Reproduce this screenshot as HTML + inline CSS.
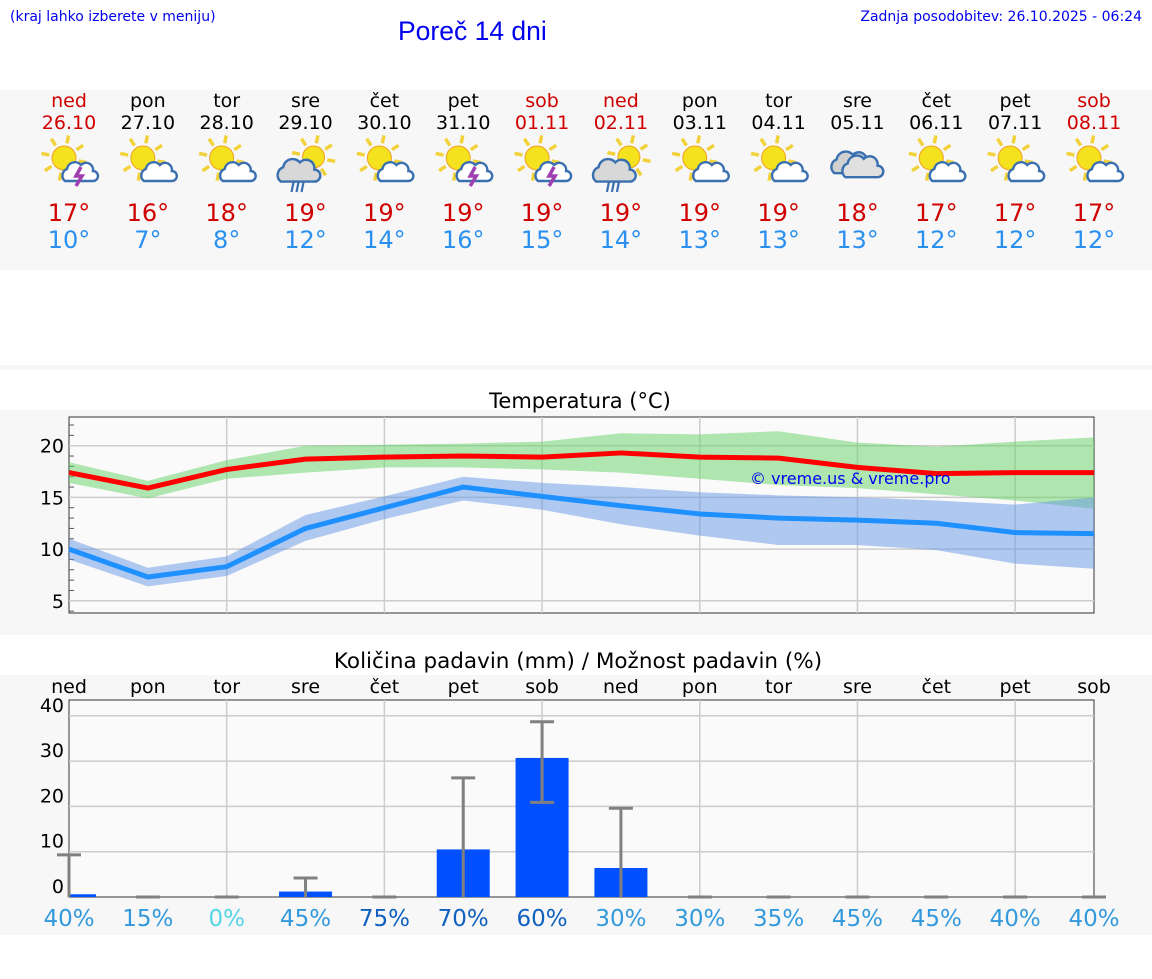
<!DOCTYPE html>
<html><head><meta charset="utf-8"><style>
body{margin:0;background:#fff;width:1152px;height:975px;overflow:hidden;font-family:"DejaVu Sans","Liberation Sans",sans-serif}
</style></head><body>
<svg id="s" width="1152" height="975" xmlns="http://www.w3.org/2000/svg" font-family="DejaVu Sans, Liberation Sans, sans-serif">
<rect x="0" y="90" width="1152" height="180" fill="#f7f7f7"/>
<rect x="0" y="365" width="1152" height="5" fill="#f7f7f7"/>
<rect x="0" y="410" width="1152" height="225" fill="#f7f7f7"/>
<rect x="0" y="675" width="1152" height="260" fill="#f7f7f7"/>
<text x="10" y="21" font-size="14" fill="#0000ee">(kraj lahko izberete v meniju)</text>
<text x="398" y="40" font-size="26.5" fill="#0000ee" font-family="Liberation Sans, sans-serif">Poreč 14 dni</text>
<text x="1142" y="21" font-size="14" fill="#0000ee" text-anchor="end">Zadnja posodobitev: 26.10.2025 - 06:24</text>
<g id="days"></g>
<text x="580" y="408" font-size="21" text-anchor="middle">Temperatura (°C)</text>
<rect x="69" y="417" width="1025" height="196" fill="#fafafa" stroke="#333"/>
<g id="temp"></g>
<text x="750" y="484" font-size="16" fill="#0000ee">© vreme.us &amp; vreme.pro</text>
<text x="578" y="668" font-size="21.5" text-anchor="middle">Količina padavin (mm) / Možnost padavin (%)</text>
<rect x="69" y="700" width="1025" height="197" fill="#fafafa" stroke="#333"/>
<g id="prec"></g>
</svg>
<script>
const dayNames=["ned","pon","tor","sre","čet","pet","sob","ned","pon","tor","sre","čet","pet","sob"];
const dates=["26.10","27.10","28.10","29.10","30.10","31.10","01.11","02.11","03.11","04.11","05.11","06.11","07.11","08.11"];
const icons=["storm","pc","pc","rain","pc","storm","storm","rain","pc","pc","cloud","pc","pc","pc"];
const maxT=[17.4,15.9,17.7,18.7,18.9,19.0,18.9,19.3,18.9,18.8,17.9,17.3,17.4,17.4];
const maxHi=[18.4,16.6,18.6,20.0,20.1,20.2,20.4,21.2,21.1,21.4,20.3,19.9,20.4,20.8];
const maxLo=[16.4,14.9,16.8,17.4,17.9,17.9,17.7,17.4,16.8,16.2,15.9,15.3,14.7,13.9];
const minT=[10.0,7.3,8.3,12.0,14.0,16.0,15.1,14.2,13.4,13.0,12.8,12.5,11.6,11.5];
const minHi=[11.0,8.2,9.3,13.3,15.1,17.0,16.4,16.0,15.5,15.2,15.0,14.7,14.3,15.0];
const minLo=[9.0,6.4,7.4,10.8,12.9,14.7,13.8,12.4,11.3,10.4,10.4,9.9,8.6,8.1];
const maxLabels=[17,16,18,19,19,19,19,19,19,19,18,17,17,17];
const minLabels=[10,7,8,12,14,16,15,14,13,13,13,12,12,12];
const precip=[0.6,0,0,1.2,0,10.5,30.7,6.4,0,0,0,0,0,0];
const precipHi=[9.3,0,0,4.2,0,26.3,38.7,19.6,0,0,0,0,0,0];
const precipLo=[0,0,0,0,0,0,20.9,0,0,0,0,0,0,0];
const chance=[40,15,0,45,75,70,60,30,30,35,45,45,40,40];
const tempTicks=[5,10,15,20];
const precTicks=[0,10,20,30,40];
const NS="http://www.w3.org/2000/svg";
function mk(p,t,a){const e=document.createElementNS(NS,t);for(const k in a)e.setAttribute(k,a[k]);p.appendChild(e);return e;}
const X=i=>69+i*(1025/13);
const TY=t=>445.7-(t-20)*10.34;
const PY=v=>897-v*4.53;
const red="#d00000";
const D=document.getElementById('days');
function sun(g,cx,cy,r){for(let k=0;k<8;k++){const a=k*Math.PI/4+0.2;mk(g,'line',{x1:cx+Math.cos(a)*(r+3),y1:cy+Math.sin(a)*(r+3),x2:cx+Math.cos(a)*(r+11),y2:cy+Math.sin(a)*(r+11),stroke:'#f2d23a','stroke-width':3.5});}mk(g,'circle',{cx,cy,r,fill:'#f5e21f',stroke:'#f0a020','stroke-width':1});}
function cloud(g,cx,cy,s,fill){const p=`M${cx-14*s},${cy+8*s} a${7*s},${7*s} 0 0 1 ${2*s},${-12*s} a${8*s},${8*s} 0 0 1 ${14*s},${-4*s} a${7*s},${7*s} 0 0 1 ${12*s},${6*s} a${5*s},${5*s} 0 0 1 ${0},${10*s} z`;mk(g,'path',{d:p,fill:fill,stroke:'#3a6fb0','stroke-width':2.4});}
for(let i=0;i<14;i++){const x=X(i);const we=(dayNames[i]==='ned'||dayNames[i]==='sob');
 let t=mk(D,'text',{x:x,y:107,'font-size':19,'text-anchor':'middle',fill:we?red:'#000'});t.textContent=dayNames[i];
 
 t=mk(D,'text',{x:x,y:129,'font-size':19,'text-anchor':'middle',fill:we?red:'#000'});t.textContent=dates[i];
 
 const g=mk(D,'g',{});
 const k=icons[i];
 if(k==='cloud'){cloud(g,x-7,164,1.15,'#d0d0d0');cloud(g,x+4,168,1.15,'#e0e0e0');}
 else if(k==='rain'){sun(g,x+8,157,11);cloud(g,x-8,172,1.2,'#d8d8d8');mk(g,'path',{d:`M${x-12},182 l-2,10 M${x-7},182 l-2,10 M${x-2},182 l-2,10`,stroke:'#3a6fb0','stroke-width':2.2});}
 else if(k==='storm'){sun(g,x-5,158,12);cloud(g,x+10,173,1.0,'#fff');mk(g,'path',{d:`M${x+12},167 l-5,9 h6 l-6,10`,stroke:'#a040b0','stroke-width':3.5,fill:'none'});}
 else {sun(g,x-5,158,12);cloud(g,x+10,173,1.0,'#fff');}
 t=mk(D,'text',{x:x,y:221,'font-size':24,'text-anchor':'middle',fill:red});t.textContent=maxLabels[i]+'°';
 
 t=mk(D,'text',{x:x,y:248,'font-size':24,'text-anchor':'middle',fill:'#2a90f0'});t.textContent=minLabels[i]+'°';
 
}
const T=document.getElementById('temp');
for(let i=1;i<13;i+=2){const l=mk(T,'line',{x1:X(i)+78.85,y1:417,x2:X(i)+78.85,y2:613,stroke:'#ccc','stroke-width':1.5});}
for(let v=4;v<=22;v++){mk(T,'line',{x1:69,y1:TY(v),x2:74,y2:TY(v),stroke:'#555'});}
tempTicks.forEach(v=>{const l=mk(T,'line',{x1:69,y1:TY(v),x2:1094,y2:TY(v),stroke:'#ccc','stroke-width':1.5});
 const t=mk(T,'text',{x:64,y:TY(v)+7,'font-size':19,'text-anchor':'end'});t.textContent=v;});
function band(hi,lo,col,name){let d='M'+hi.map((v,i)=>X(i)+','+TY(v)).join(' L')+' L'+lo.map((v,i)=>X(i)+','+TY(v)).reverse().join(' L')+'Z';const p=mk(T,'path',{d,fill:col});}
function line(a,col,name){const p=mk(T,'polyline',{points:a.map((v,i)=>X(i)+','+TY(v)).join(' '),fill:'none',stroke:col,'stroke-width':5,'stroke-linejoin':'round'});}
band(maxHi,maxLo,'rgba(100,210,100,0.5)','max-temp-range');
band(minHi,minLo,'rgba(100,150,230,0.5)','min-temp-range');
line(maxT,'#ff0000','max-temp-line');
line(minT,'#1e90ff','min-temp-line');
const P=document.getElementById('prec');
for(let i=2;i<14;i+=2){const l=mk(P,'line',{x1:X(i),y1:700,x2:X(i),y2:897,stroke:'#ccc','stroke-width':1.5});}
precTicks.forEach(v=>{if(v>0){const l=mk(P,'line',{x1:69,y1:PY(v),x2:1094,y2:PY(v),stroke:'#ccc','stroke-width':1.5});}
 const t=mk(P,'text',{x:64,y:PY(v)-4,'font-size':19,'text-anchor':'end'});t.textContent=v;});
for(let i=0;i<14;i++){const x=X(i);
 let t=mk(P,'text',{x:x,y:693,'font-size':19,'text-anchor':'middle'});t.textContent=dayNames[i];
 if(precip[i]>0){const w=i===0?27:53;const bx=i===0?x:x-26.5;const r=mk(P,'rect',{x:bx,y:PY(precip[i]),width:w,height:897-PY(precip[i]),fill:'#0050ff'});}
 const e=mk(P,'path',{d:`M${x},${PY(precipLo[i])} V${PY(precipHi[i])} M${x-12},${PY(precipHi[i])} h24`+(precipLo[i]>0?` M${x-12},${PY(precipLo[i])} h24`:''),stroke:'#808080','stroke-width':3,fill:'none'});
 
 const c=chance[i];const col=c===0?'#55d5e5':(c>=60?'#1060c0':'#3399dd');
 t=mk(P,'text',{x:x,y:926,'font-size':23,'text-anchor':'middle',fill:col});t.textContent=c+'%';
}
</script>
</body></html>
